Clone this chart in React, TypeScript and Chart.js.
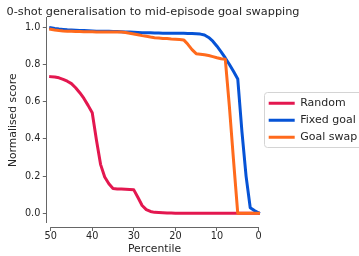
import { useEffect, useRef } from "react";
import { Chart, registerables } from "chart.js";

Chart.register(...registerables);

const FONT = "'DejaVu Sans', 'Liberation Sans', sans-serif";

const titleText = "0-shot generalisation to mid-episode goal swapping";
const xLabel = "Percentile";
const yLabel = "Normalised score";

const percentiles = [
  50, 49, 48, 47, 46, 45, 44, 43, 42, 41, 40, 39, 38, 37, 36, 35, 34, 33, 32, 31,
  30, 29, 28, 27, 26, 25, 24, 23, 22, 21, 20, 19, 18, 17, 16, 15, 14, 13, 12, 11,
  10, 9, 8, 7, 6, 5, 4, 3, 2, 1, 0,
];

const random = [
  0.734, 0.732, 0.728, 0.72, 0.71, 0.697, 0.675, 0.648, 0.617, 0.58,
  0.54, 0.395, 0.263, 0.195, 0.159, 0.133, 0.131, 0.13, 0.129, 0.128,
  0.126, 0.085, 0.042, 0.02, 0.01, 0.005, 0.004, 0.003, 0.002, 0.001,
  0.0, 0.0, 0.0, 0.0, 0.0, 0.0, 0.0, 0.0, 0.0, 0.0,
  0.0, 0.0, 0.0, 0.0, 0.0, 0.0, 0.0, 0.0, 0.0, 0.0, 0.0,
];

const fixedGoal = [
  0.997, 0.993, 0.99, 0.988, 0.986, 0.985, 0.984, 0.983, 0.982, 0.981,
  0.98, 0.979, 0.979, 0.978, 0.978, 0.977, 0.977, 0.976, 0.975, 0.974,
  0.973, 0.972, 0.971, 0.97, 0.97, 0.969, 0.969, 0.968, 0.968, 0.968,
  0.967, 0.967, 0.967, 0.966, 0.966, 0.965, 0.963, 0.958, 0.945, 0.925,
  0.898, 0.868, 0.835, 0.8, 0.762, 0.722, 0.44, 0.2, 0.03, 0.015, 0.003,
];

const goalSwap = [
  0.989, 0.985, 0.982, 0.98, 0.979, 0.978, 0.977, 0.977, 0.976, 0.976,
  0.976, 0.975, 0.975, 0.975, 0.975, 0.975, 0.975, 0.974, 0.972, 0.968,
  0.964, 0.96, 0.955, 0.951, 0.947, 0.944, 0.942, 0.94, 0.939, 0.937,
  0.936, 0.934, 0.932, 0.908, 0.88, 0.858, 0.855, 0.852, 0.848, 0.842,
  0.836, 0.831, 0.828, 0.57, 0.28, 0.0, 0.0, 0.0, 0.0, 0.0, 0.0,
];

const seriesNames = ["Random", "Fixed goal", "Goal swap"];
const seriesColors = ["#e3174f", "#0653d6", "#ff6a1c"];
const seriesValues = [random, fixedGoal, goalSwap];
const seriesOrder = [2, 1, 0];

const xTicks = [50, 40, 30, 20, 10, 0];
const yTicks = [0, 0.2, 0.4, 0.6, 0.8, 1.0];

const TEXT = "#262626";
const AXIS = "#666666";

const decorPlugin = {
  id: "decor",
  beforeDraw(chart: any) {
    const lg = chart.legend;
    const ctx = chart.ctx;
    if (lg && lg.legendHitBoxes && lg.legendHitBoxes.length) {
      const hb = lg.legendHitBoxes;
      const last = hb[hb.length - 1];
      const x0 = Math.round(lg.left + 1.5) + 0.5;
      const y0 = Math.round(hb[0].top - 5.5) + 0.5;
      const y1 = Math.round(last.top + last.height + 4.5) + 0.5;
      const x1 = chart.width + 10;
      ctx.save();
      ctx.beginPath();
      ctx.roundRect(x0, y0, x1 - x0, y1 - y0, 3);
      ctx.fillStyle = "#ffffff";
      ctx.fill();
      ctx.strokeStyle = "#d4d4d4";
      ctx.lineWidth = 1;
      ctx.stroke();
      ctx.restore();
    }
  },
  afterDraw(chart: any) {
    const ctx = chart.ctx;
    const xs = chart.scales.x;
    const y = Math.round(chart.chartArea.bottom + 4.7) + 0.5;
    const a = xs.getPixelForValue(xTicks[0]);
    const b = xs.getPixelForValue(xTicks[xTicks.length - 1]);
    ctx.save();
    ctx.beginPath();
    ctx.moveTo(Math.min(a, b) - 0.5, y);
    ctx.lineTo(Math.max(a, b) + 0.5, y);
    ctx.strokeStyle = AXIS;
    ctx.lineWidth = 1;
    ctx.stroke();
    ctx.restore();
  },
};

export default function App() {
  const ref = useRef<HTMLCanvasElement | null>(null);

  useEffect(() => {
    if (!ref.current) return;
    const datasets = seriesNames.map((name, i) => ({
      label: name,
      data: percentiles.map((p, j) => ({ x: p, y: seriesValues[i][j] })),
      borderColor: seriesColors[i],
      backgroundColor: seriesColors[i],
      borderWidth: 3,
      pointRadius: 0,
      pointHoverRadius: 0,
      tension: 0,
      fill: false,
      borderCapStyle: "square" as const,
      borderJoinStyle: "round" as const,
      order: seriesOrder[i],
    }));

    const chart = new Chart(ref.current, {
      type: "line",
      data: { datasets },
      plugins: [decorPlugin],
      options: {
        animation: false,
        responsive: false,
        devicePixelRatio: 1,
        events: [],
        layout: { padding: { left: 6.5, right: 0, top: 0, bottom: 0 } },
        plugins: {
          tooltip: { enabled: false },
          title: {
            display: true,
            text: titleText,
            align: "start",
            fullSize: true,
            color: TEXT,
            font: { family: FONT, size: 11.3, weight: "normal", lineHeight: 1.1 },
            padding: { top: 5.5, bottom: 0 },
          },
          legend: {
            display: true,
            position: "right",
            align: "center",
            fullSize: false,
            maxWidth: 96.3,
            labels: {
              usePointStyle: true,
              pointStyle: "line",
              pointStyleWidth: 26,
              padding: 6,
              color: TEXT,
              font: { family: FONT, size: 11 },
              sort: (a: any, b: any) => a.datasetIndex - b.datasetIndex,
            },
          },
        },
        scales: {
          x: {
            type: "linear",
            reverse: true,
            min: -1,
            max: 51,
            afterBuildTicks: (scale: any) => {
              scale.ticks = xTicks.map((v) => ({ value: v }));
            },
            afterFit: (scale: any) => {
              scale.height = 33.4;
            },
            ticks: {
              autoSkip: false,
              maxRotation: 0,
              padding: 0,
              color: TEXT,
              font: { family: FONT, size: 9.7 },
              callback: (v: any) => String(v),
            },
            grid: {
              display: true,
              drawOnChartArea: false,
              drawTicks: true,
              tickLength: 8.4,
              tickColor: AXIS,
              tickWidth: 1,
              tickBorderDash: [0, 4.7, 3.7, 50],
            },
            border: { display: false },
            title: {
              display: true,
              text: xLabel,
              color: TEXT,
              font: { family: FONT, size: 10.8 },
              padding: { top: 0, bottom: 0 },
            },
          },
          y: {
            type: "linear",
            min: -0.05,
            max: 1.05,
            afterBuildTicks: (scale: any) => {
              scale.ticks = yTicks.map((v) => ({ value: v }));
            },
            afterFit: (scale: any) => {
              scale.width = 40;
            },
            ticks: {
              padding: 2.5,
              color: TEXT,
              font: { family: FONT, size: 9.7 },
              callback: (v: any) => Number(v).toFixed(1),
            },
            grid: {
              display: true,
              drawOnChartArea: false,
              drawTicks: true,
              tickLength: 3.7,
              tickColor: AXIS,
              tickWidth: 1,
            },
            border: { display: true, color: AXIS, width: 1 },
            title: {
              display: true,
              text: yLabel,
              color: TEXT,
              font: { family: FONT, size: 10.8 },
              padding: { top: 0.5, bottom: 0 },
            },
          },
        },
      },
    } as any);

    return () => chart.destroy();
  }, []);

  return (
    <div
      style={{
        position: "fixed",
        left: 0,
        top: 0,
        width: 359,
        height: 256,
        overflow: "hidden",
        background: "#ffffff",
      }}
    >
      <canvas ref={ref} width={359} height={256} style={{ display: "block" }} />
    </div>
  );
}
